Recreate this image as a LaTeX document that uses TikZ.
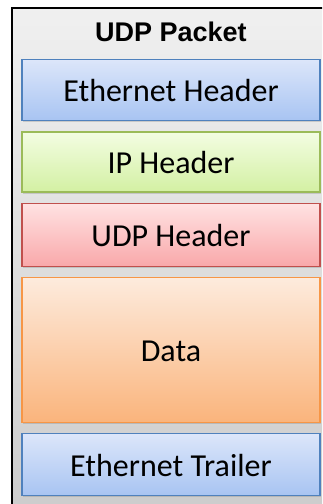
\documentclass[tikz,border=0pt]{standalone}
\usepackage{fontspec}
\setmainfont{Carlito}
\newfontfamily\titlefont{Liberation Sans}
\usetikzlibrary{shadows}

\definecolor{ethTop}{HTML}{DCE6FA}
\definecolor{ethBot}{HTML}{A8C4F2}
\definecolor{ethLine}{HTML}{4F81BD}
\definecolor{ipTop}{HTML}{F3FDE2}
\definecolor{ipBot}{HTML}{D3F0A3}
\definecolor{ipLine}{HTML}{9BBB59}
\definecolor{udpTop}{HTML}{FFE2E2}
\definecolor{udpBot}{HTML}{F9A8AA}
\definecolor{udpLine}{HTML}{C0504D}
\definecolor{dataTop}{HTML}{FDEBDD}
\definecolor{dataBot}{HTML}{FAB47C}
\definecolor{dataLine}{HTML}{F79646}

\tikzset{
  layer/.style={draw, line width=1.2pt, minimum width=298pt,
    inner sep=0pt, outer sep=0pt, anchor=north west,
    font=\fontsize{32}{36}\selectfont, text height=23pt, text depth=0pt,
    drop shadow={opacity=0.3, shadow xshift=0.8pt, shadow yshift=-1.8pt}},
  ethlayer/.style={layer, draw=ethLine, top color=ethTop, bottom color=ethBot},
  iplayer/.style={layer, draw=ipLine, top color=ipTop, bottom color=ipBot},
  udplayer/.style={layer, draw=udpLine, top color=udpTop, bottom color=udpBot},
  datalayer/.style={layer, draw=dataLine, top color=dataTop, bottom color=dataBot},
  frame/.style={draw=black, line width=1.8pt, top color=black!6, bottom color=black!20,
    inner sep=0pt, outer sep=0pt, anchor=north west},
  heading/.style={font=\titlefont\bfseries\fontsize{27}{30}\selectfont, anchor=base}
}

\begin{document}
\begin{tikzpicture}[x=1pt, y=-1pt]
  \useasboundingbox[fill=white] (0,0) rectangle (322,504);
  \clip (0,0) rectangle (322,504);

  % outer packet frame, running past the right and bottom edges
  \node[frame, minimum width=330pt, minimum height=510pt] (packet) at (12,8) {};
  \node[heading] (title) at (171,41.5) {UDP Packet};

  % protocol layers, top to bottom
  \node[ethlayer, minimum height=61pt] (eth) at (22,59.5) {Ethernet Header};
  \node[iplayer, minimum height=60pt] (ip) at (22,132) {IP Header};
  \node[udplayer, minimum height=63pt] (udp) at (22,203.5) {UDP Header};
  \node[datalayer, minimum height=145pt] (data) at (22,277.5) {Data};
  \node[ethlayer, minimum height=62pt] (trailer) at (22,433.5) {Ethernet Trailer};
\end{tikzpicture}
\end{document}
